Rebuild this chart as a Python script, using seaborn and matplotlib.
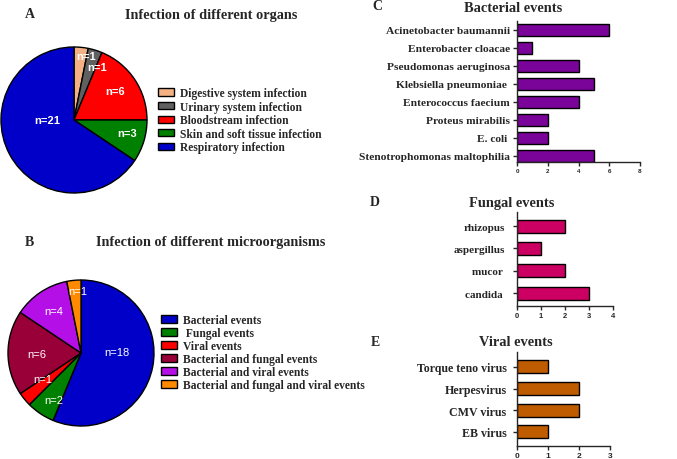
import matplotlib
matplotlib.use("Agg")
import matplotlib.pyplot as plt
import seaborn as sns
import pandas as pd

# ---------------- data ----------------
organ_labels = ["Digestive system infection", "Urinary system infection",
                "Bloodstream infection", "Skin and soft tissue infection",
                "Respiratory infection"]
organ_counts = [1, 1, 6, 3, 21]

micro_labels = ["Bacterial events", " Fungal events", "Viral events",
                "Bacterial and fungal events", "Bacterial and viral events",
                "Bacterial and fungal and viral events"]
micro_counts = [18, 2, 1, 6, 4, 1]

bact_names = ["Acinetobacter baumannii", "Enterobacter cloacae",
              "Pseudomonas aeruginosa", "Klebsiella pneumoniae ",
              "Enterococcus faecium", "Proteus mirabilis", "E. coli ",
              "Stenotrophomonas maltophilia"]
bact_counts = [6, 1, 4, 5, 4, 2, 2, 5]

fung_names = ["rhizopus", "aspergillus", "mucor ", "candida "]
fung_counts = [2, 1, 2, 3]

vir_names = ["Torque teno virus", "Herpesvirus", "CMV virus", "EB virus"]
vir_counts = [1, 2, 2, 1]

# ---------------- style ----------------
organ_colors = ["#F4B183", "#606060", "#FF0000", "#008000", "#0000C8"]
micro_colors = ["#0000C8", "#008000", "#FF0000", "#990038", "#B40FE6", "#FF8A00"]
bact_color = "#7A0399"
fung_color = "#CC0062"
vir_color = "#C05C00"

# label positions inside the pies (unit-circle coordinates)
organ_label_pos = [(0.16, 0.88), (0.32, 0.73), (0.56, 0.40), (0.73, -0.18), (-0.37, 0.0)]
micro_label_pos = [(0.49, 0.01), (-0.37, -0.64), (-0.53, -0.36), (-0.60, -0.01),
                   (-0.38, 0.58), (-0.05, 0.85)]

sns.set_style("ticks")
plt.rcParams["font.family"] = ["Liberation Serif", "DejaVu Serif"]
SERIF = "Liberation Serif"
SANS = "Liberation Sans"

W, H = 677, 460
fig = plt.figure(figsize=(W / 100, H / 100), dpi=100)


def px_axes(left, top, right, bottom):
    return fig.add_axes([left / W, 1 - bottom / H, (right - left) / W, (bottom - top) / H])


def pie_panel(cx, cy, r, counts, colors, label_pos, bold):
    hw = r * 1.03
    ax = px_axes(cx - hw, cy - hw, cx + hw, cy + hw)
    wedges, _ = ax.pie(counts, colors=colors, startangle=90, counterclock=False,
                       wedgeprops=dict(edgecolor="black", linewidth=1.0))
    for (x, y), n in zip(label_pos, counts):
        ax.text(x, y, f"n={n}", color="white", ha="center", va="center",
                fontsize=8, family=SANS, fontweight="bold" if bold else "normal")
    lim = hw / r
    ax.set_xlim(-lim, lim)
    ax.set_ylim(-lim, lim)
    ax.set_aspect("equal")
    ax.axis("off")
    return wedges


def ftext(x, y, s, size, **kw):
    fig.text(x / W, 1 - y / H, s, fontsize=size, family=SERIF, fontweight="bold",
             ha=kw.pop("ha", "center"), va="center", **kw)


# ---------------- panel A ----------------
wA = pie_panel(74, 121, 73, organ_counts, organ_colors, organ_label_pos, True)
fig.legend(wA, organ_labels, loc="upper left", bbox_to_anchor=(158 / W, 1 - 88 / H),
           frameon=False, borderpad=0, borderaxespad=0, handlelength=1.4,
           handleheight=0.6, handletextpad=0.55, labelspacing=0.14,
           prop=dict(family=SERIF, weight="bold", size=8.3))
ftext(30, 15, "A", 10)
ftext(211, 15, "Infection of different organs", 10.3)

# ---------------- panel B ----------------
wB = pie_panel(81, 354, 73, micro_counts, micro_colors, micro_label_pos, False)
fig.legend(wB, micro_labels, loc="upper left", bbox_to_anchor=(161 / W, 1 - 315 / H),
           frameon=False, borderpad=0, borderaxespad=0, handlelength=1.4,
           handleheight=0.6, handletextpad=0.55, labelspacing=0.09,
           prop=dict(family=SERIF, weight="bold", size=8.3))
ftext(29, 243, "B", 10)
ftext(211, 243, "Infection of different microorganisms", 10.3)


# ---------------- bar panels ----------------
def bar_panel(box, names, counts, color, xmax, ylim, tick_size, width, ysize, ypad):
    ax = px_axes(*box)
    df = pd.DataFrame({"name": names, "count": counts})
    sns.barplot(data=df, x="count", y="name", color=color, edgecolor="black",
                linewidth=1.0, width=width, saturation=1, ax=ax)
    ax.set_xlim(0, xmax)
    ax.set_ylim(*ylim)
    ax.set_xticks(range(0, xmax + 1, 2 if xmax > 4 else 1))
    ax.set_xlabel("")
    ax.set_ylabel("")
    sns.despine(ax=ax)
    for s in ("left", "bottom"):
        ax.spines[s].set_linewidth(1.0)
    ax.tick_params(axis="y", length=3, width=1, pad=ypad)
    ax.tick_params(axis="x", length=3, width=1, pad=1.5)
    for t in ax.get_yticklabels():
        t.set_fontfamily(SERIF)
        t.set_fontweight("bold")
        t.set_fontsize(ysize)
    for t in ax.get_xticklabels():
        t.set_fontfamily(SANS)
        t.set_fontweight("bold")
        t.set_fontsize(tick_size)
    return ax


bar_panel((517, 22, 640, 163), bact_names, bact_counts, bact_color, 8, (7.35, -0.5),
          4.5, 0.65, 8.2, 2)
ftext(377, 7, "C", 10)
ftext(513, 8, "Bacterial events", 10.4)

bar_panel((517, 213, 613, 307), fung_names, fung_counts, fung_color, 4, (3.58, -0.63),
          5.5, 0.58, 8, 5.5)
ftext(375, 202, "D", 10)
ftext(512, 203, "Fungal events", 10.4)

bar_panel((517, 353, 610, 447), vir_names, vir_counts, vir_color, 3, (3.65, -0.69),
          6, 0.6, 8.6, 4.5)
ftext(375, 343, "E", 10)
ftext(516, 343, "Viral events", 10.4)

fig.savefig("out.png", dpi=100)
